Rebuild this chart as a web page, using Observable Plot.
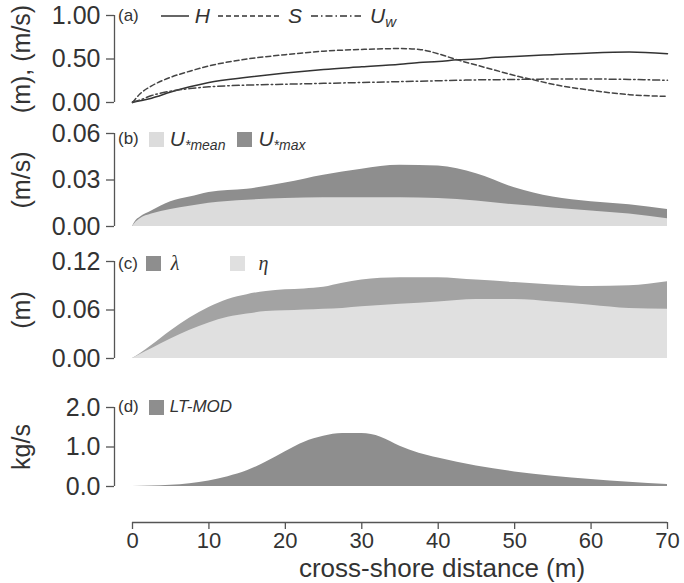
<!DOCTYPE html>
<html><head><meta charset="utf-8">
<script src="https://cdn.jsdelivr.net/npm/d3@7"></script>
<script src="https://cdn.jsdelivr.net/npm/@observablehq/plot@0.6"></script>
<style>
body{margin:0;background:#fff;}
#chart{position:relative;width:684px;height:583px;font-family:"Liberation Sans",Arial,sans-serif;color:#333;overflow:hidden;}
.pw{position:absolute;left:0;}
.leg{position:absolute;display:flex;align-items:center;white-space:nowrap;color:#333;}
.pl{font-size:17px;margin-right:6px;}
.it{font-style:italic;font-size:21px;}
.sub{font-size:14px;font-style:italic;position:relative;top:6px;}
.sw{display:inline-block;width:15px;height:15px;}
.gr{font-family:"Liberation Serif","DejaVu Serif",serif;font-style:italic;font-size:20px;}
#xtitle{position:absolute;left:442px;top:568px;transform:translate(-50%,-50%);font-size:26px;white-space:nowrap;color:#333;}
</style></head>
<body><div id="chart"></div>
<script>
// ---- data ----
const xTicks = [0,10,20,30,40,50,60,70];
const xTitle = "cross-shore distance (m)";
const xA = [0,1,2.5,5,7.5,10,15,20,25,30,35,37.5,40,42.5,45,47.5,50,52.5,55,60,65,70];
const H  = [0,0.02,0.05,0.12,0.18,0.23,0.29,0.34,0.38,0.41,0.44,0.46,0.47,0.49,0.50,0.52,0.53,0.54,0.55,0.57,0.58,0.56];
const S  = [0,0.10,0.19,0.29,0.36,0.42,0.50,0.55,0.59,0.61,0.62,0.61,0.56,0.49,0.43,0.37,0.31,0.26,0.21,0.14,0.09,0.07];
const Uw = [0.01,0.03,0.08,0.13,0.16,0.18,0.20,0.21,0.22,0.23,0.24,0.245,0.25,0.255,0.26,0.262,0.265,0.267,0.27,0.27,0.265,0.255];
const ticksA = [0,0.5,1];

const xB = [0,0.5,1,2.5,5,7.5,10,15,20,25,30,35,40,45,50,55,60,65,70];
const uMax  = [0,0.004,0.006,0.010,0.016,0.019,0.022,0.024,0.028,0.033,0.037,0.0395,0.039,0.034,0.025,0.019,0.016,0.014,0.011];
const uMean = [0,0.003,0.005,0.008,0.011,0.013,0.015,0.017,0.018,0.0185,0.0185,0.0185,0.018,0.0165,0.014,0.012,0.010,0.008,0.005];
const ticksB = [0,0.03,0.06];

const xC = [0,1,2.5,5,7.5,10,12.5,15,17.5,20,22.5,25,27.5,30,35,40,45,50,55,60,65,70];
const lambda = [0,0.006,0.016,0.034,0.050,0.063,0.073,0.079,0.083,0.085,0.086,0.088,0.093,0.097,0.100,0.100,0.097,0.094,0.091,0.089,0.090,0.095];
const eta    = [0,0.005,0.012,0.024,0.035,0.044,0.051,0.055,0.058,0.059,0.060,0.061,0.062,0.064,0.067,0.070,0.073,0.073,0.070,0.066,0.062,0.061];
const ticksC = [0,0.06,0.12];

const xD = [0,2.5,5,7.5,10,12.5,15,17.5,20,22.5,25,27.5,30,32.5,35,37.5,40,45,50,55,60,65,70];
const ltmod = [0,0.01,0.03,0.07,0.14,0.25,0.40,0.62,0.88,1.12,1.27,1.34,1.34,1.25,1.02,0.84,0.72,0.52,0.37,0.26,0.18,0.11,0.05];
const ticksD = [0,1,2];

// ---- build ----
const chart = document.getElementById("chart");
const FONT = "Liberation Sans, Arial, sans-serif";
const AX = "#555";
const tbl = (xs, obj) => xs.map((x, i) => { const r = {x}; for (const k in obj) r[k] = obj[k][i]; return r; });

function panel({yTop, yBot, domain, ticks, fmt, label, marks}) {
  const mt = 14, mb = 14;
  const h = (yBot - yTop) + mt + mb;
  const svg = Plot.plot({
    width: 684, height: h, marginTop: mt, marginBottom: mb, marginLeft: 114, marginRight: 17,
    style: {background: "transparent", fontFamily: FONT, fontSize: "22px", color: "#333", overflow: "visible"},
    x: {domain: [0, 70], insetLeft: 18, axis: null},
    y: {domain, axis: null},
    marks: [
      ...marks,
      Plot.ruleX([0], {y1: domain[0], y2: domain[1], dx: -18, stroke: AX, strokeWidth: 1.3}),
      Plot.axisY({ticks, tickFormat: fmt, tickSize: 8, tickPadding: 6, stroke: AX, strokeWidth: 1.3,
        label, labelAnchor: "center", labelOffset: 102, labelArrow: "none", fontSize: 25})
    ]
  });
  const d = document.createElement("div");
  d.className = "pw"; d.style.top = (yTop - mt) + "px";
  d.appendChild(svg); chart.appendChild(d);
}

const dA = tbl(xA, {H, S, Uw});
panel({yTop: 15, yBot: 102, domain: [0, 1], ticks: ticksA, fmt: d3.format(".2f"), label: "(m), (m/s)",
  marks: [
    Plot.lineY(dA, {x: "x", y: "H", stroke: "#333", strokeWidth: 1.5, curve: "monotone-x"}),
    Plot.lineY(dA, {x: "x", y: "S", stroke: "#444", strokeWidth: 1.5, strokeDasharray: "5,3", curve: "monotone-x"}),
    Plot.lineY(dA, {x: "x", y: "Uw", stroke: "#444", strokeWidth: 1.5, strokeDasharray: "7,3,1.5,3", curve: "monotone-x"})
  ]});

const dB = tbl(xB, {uMax, uMean});
panel({yTop: 133, yBot: 226, domain: [0, 0.06], ticks: ticksB, fmt: d3.format(".2f"), label: "(m/s)",
  marks: [
    Plot.areaY(dB, {x: "x", y: "uMax", fill: "#8e8e8e", curve: "monotone-x"}),
    Plot.areaY(dB, {x: "x", y: "uMean", fill: "#dcdcdc", curve: "monotone-x"})
  ]});

const dC = tbl(xC, {lambda, eta});
panel({yTop: 261, yBot: 358, domain: [0, 0.12], ticks: ticksC, fmt: d3.format(".2f"), label: "(m)",
  marks: [
    Plot.areaY(dC, {x: "x", y: "lambda", fill: "#a3a3a3", curve: "monotone-x"}),
    Plot.areaY(dC, {x: "x", y: "eta", fill: "#e0e0e0", curve: "monotone-x"})
  ]});

const dD = tbl(xD, {ltmod});
panel({yTop: 407, yBot: 486, domain: [0, 2], ticks: ticksD, fmt: d3.format(".1f"), label: "kg/s",
  marks: [
    Plot.areaY(dD, {x: "x", y: "ltmod", fill: "#8e8e8e", curve: "monotone-x"})
  ]});

// x axis
{
  const top = 512, h = 583 - top;
  const svg = Plot.plot({
    width: 684, height: h, marginTop: 9, marginBottom: h - 10, marginLeft: 114, marginRight: 17,
    style: {background: "transparent", fontFamily: FONT, fontSize: "22px", color: "#333", overflow: "visible"},
    x: {domain: [0, 70], insetLeft: 18, axis: null},
    y: {domain: [0, 1], axis: null},
    marks: [
      Plot.ruleY([0], {x1: 0, x2: 70, stroke: AX, strokeWidth: 1.3}),
      Plot.axisX({ticks: xTicks, tickSize: 7, tickPadding: 3, stroke: AX, strokeWidth: 1.3, label: null})
    ]
  });
  const d = document.createElement("div");
  d.className = "pw"; d.style.top = top + "px";
  d.appendChild(svg); chart.appendChild(d);
  const t = document.createElement("div");
  t.id = "xtitle"; t.textContent = xTitle; chart.appendChild(t);
}

// legends
function leg(top, left, html) {
  const d = document.createElement("div");
  d.className = "leg"; d.style.top = top + "px"; d.style.left = left + "px";
  d.innerHTML = html; chart.appendChild(d);
}
const lineSw = (w, dash, m) => `<svg width="${w}" height="6" style="margin:0 ${m || 8}px"><line x1="0" y1="3" x2="${w}" y2="3" stroke="#333" stroke-width="1.5" ${dash ? `stroke-dasharray="${dash}"` : ""}/></svg>`;
leg(4, 118, `<span class="pl">(a)</span><span style="margin-left:10px"></span>${lineSw(28, null, 6)}<span class="it">H</span>${lineSw(62, "5,3", 8)}<span class="it">S</span>${lineSw(50, "7,3,1.5,3", 9)}<span class="it">U</span><span class="sub" style="font-size:15px;top:5px">w</span>`);
leg(127, 118, `<span class="pl">(b)</span><span class="sw" style="background:#dcdcdc;margin:0 6px 0 4px"></span><span class="it">U</span><span class="sub">*mean</span><span class="sw" style="background:#8e8e8e;margin:0 6px 0 12px"></span><span class="it">U</span><span class="sub">*max</span>`);
leg(252, 118, `<span class="pl">(c)</span><span class="sw" style="background:#8e8e8e;margin:0 10px 0 2px"></span><span class="gr">λ</span><span class="sw" style="background:#e0e0e0;margin:0 14px 0 50px"></span><span class="gr">η</span>`);
leg(397, 118, `<span class="pl">(d)</span><span class="sw" style="background:#8e8e8e;margin:0 6px 0 4px"></span><span class="it" style="font-size:17px">LT-MOD</span>`);
</script></body></html>
